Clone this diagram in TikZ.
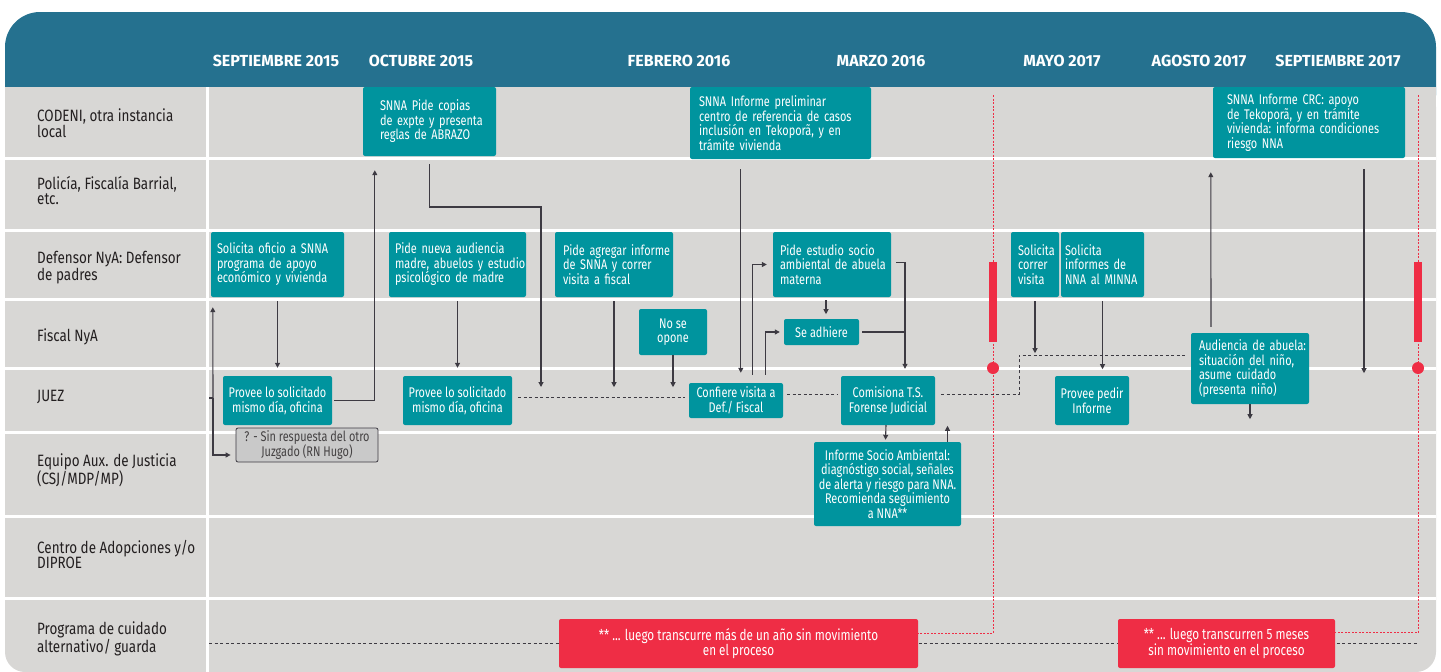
\documentclass[tikz,border=0pt]{standalone}
\usepackage{fontspec}
\setmainfont{Fira Sans}
\newfontfamily\cf[FakeStretch=0.82]{Fira Sans}
\newfontfamily\bxf[FakeStretch=0.78]{Fira Sans}
\newfontfamily\hf{Fira Sans}
\usetikzlibrary{arrows.meta,calc}
\definecolor{hdr}{HTML}{25718F}
\definecolor{bg}{HTML}{D8D7D5}
\definecolor{tl}{HTML}{00949E}
\definecolor{rd}{HTML}{EF2D45}
\definecolor{ln}{HTML}{3D3A42}
\definecolor{lbl}{HTML}{231F20}
\definecolor{gbx}{HTML}{C9C9C9}
\pgfdeclarelayer{back}
\pgfdeclarelayer{mid}
\pgfsetlayers{back,mid,main}
\hyphenpenalty=10000
\exhyphenpenalty=10000
\begin{document}
\begin{tikzpicture}[x=1pt,y=-1pt,
  tbox/.style={rectangle, rounded corners=2pt, fill=tl, text=white, font=\bxf\fontsize{14}{14.5}\selectfont, inner ysep=0pt},
  lbox/.style={tbox, align=left},
  cbox/.style={tbox, align=center, inner xsep=0pt},
  gbox/.style={rectangle, rounded corners=2pt, fill=gbx, draw=ln, line width=0.8pt, text=lbl!85, font=\bxf\fontsize{14}{14.5}\selectfont, inner sep=0pt, align=center},
  rbox/.style={rectangle, rounded corners=2pt, fill=rd, text=white, font=\bxf\fontsize{15}{14.5}\selectfont, inner sep=0pt, align=center},
  hd/.style={text=white, font=\hf\bfseries\fontsize{16}{18}\selectfont, inner sep=0pt},
  lab/.style={anchor=west, text=lbl, font=\cf\fontsize{16.4}{15}\selectfont, align=left, inner sep=0pt},
  arr/.style={draw=ln, line width=1.1pt, -{Triangle[length=5pt,width=5pt]}},
  cline/.style={draw=ln, line width=1.1pt},
  dsh/.style={draw=ln, line width=0.9pt, dash pattern=on 3pt off 2.5pt},
  rdt/.style={draw=rd, line width=1pt, dash pattern=on 2pt off 1.5pt},
  rbar/.style={rectangle, fill=rd, minimum width=8pt, minimum height=80pt, inner sep=0pt},
  rdot/.style={circle, fill=rd, minimum size=12pt, inner sep=0pt}
]
\useasboundingbox (0,0) rectangle (1441,672);
\begin{pgfonlayer}{back}
  \fill[hdr, rounded corners=35pt] (5,12) rectangle (1436,130);
  \fill[bg, rounded corners=20pt] (5,87) rectangle (1436,672);
  \fill[bg] (5,87) rectangle (1436,130);
  \foreach \yy in {158,230.5,299,368,432.5,516.5,598.5}
    \draw[white, line width=3pt] (5,\yy) -- (1436,\yy);
  \draw[white, line width=3pt] (207.5,87) -- (207.5,672);
\end{pgfonlayer}

% headers
\node[hd] (h1) at (276,61) {SEPTIEMBRE 2015};
\node[hd] (h2) at (421,61) {OCTUBRE 2015};
\node[hd] (h3) at (679,61) {FEBRERO 2016};
\node[hd] (h4) at (881,61) {MARZO 2016};
\node[hd] (h5) at (1062,61) {MAYO 2017};
\node[hd] (h6) at (1199,61) {AGOSTO 2017};
\node[hd] (h7) at (1338,61) {SEPTIEMBRE 2017};

% row labels
\node[lab] (l1) at (37,123.5) {CODENI, otra instancia\\local};
\node[lab] (l2) at (37,190.5) {Policía, Fiscalía Barrial,\\etc.};
\node[lab] (l3) at (37,267.5) {Defensor NyA: Defensor\\de padres};
\node[lab] (l4) at (37,337) {Fiscal NyA};
\node[lab] (l5) at (37,397) {JUEZ};
\node[lab] (l6) at (37,470.5) {Equipo Aux. de Justicia\\(CSJ/MDP/MP)};
\node[lab] (l7) at (37,554.5) {Centro de Adopciones y/o\\DIPROE};
\node[lab] (l8) at (37,638.5) {Programa de cuidado\\alternativo/ guarda};

% boxes (left aligned: inner xsep = left padding, text width = width - 2*padding)
\node[lbox, inner xsep=17pt, text width=99pt, minimum height=69pt] (c1) at (429.5,121.5) {SNNA~Pide~copias\\de~expte~y~presenta\\reglas~de~ABRAZO};
\node[lbox, inner xsep=9pt, text width=163pt, minimum height=72pt] (c2) at (780.5,123) {SNNA~Informe~preliminar\\centro~de~referencia~de~casos\\inclusión~en~Tekoporã,~y~en\\trámite~vivienda};
\node[lbox, inner xsep=14pt, text width=164pt, minimum height=71pt] (c3) at (1309,122.5) {SNNA~Informe~CRC:~apoyo\\de~Tekoporã,~y~en~trámite\\vivienda:~informa~condiciones\\riesgo~NNA};
\node[lbox, inner xsep=6pt, text width=121pt, minimum height=65pt] (d1) at (277.5,264.5) {Solicita~oficio~a~SNNA\\programa~de~apoyo\\económico~y~vivienda};
\node[lbox, inner xsep=6pt, text width=125pt, minimum height=65pt] (d2) at (457.5,264.5) {Pide~nueva~audiencia\\madre,~abuelos~y~estudio\\psicológico~de~madre};
\node[lbox, inner xsep=8pt, text width=102pt, minimum height=65pt] (d3) at (614,264.5) {Pide~agregar~informe\\de~SNNA~y~correr\\visita~a~fiscal};
\node[lbox, inner xsep=7pt, text width=104pt, minimum height=65pt] (d4) at (832,264.5) {Pide~estudio~socio\\ambiental~de~abuela\\materna};
\node[lbox, inner xsep=7pt, text width=34pt, minimum height=65pt] (d5) at (1035,264.5) {Solicita\\correr\\visita};
\node[lbox, inner xsep=4pt, text width=75pt, minimum height=65pt] (d6) at (1102.5,264.5) {Solicita\\informes~de\\NNA~al~MINNA};
\node[cbox, minimum width=68pt, minimum height=46pt] (f1) at (673,332) {No se\\opone};
\node[cbox, minimum width=75pt, minimum height=26pt] (f2) at (821.5,332) {Se adhiere};
\node[cbox, minimum width=109pt, minimum height=49pt] (j1) at (277.5,400.5) {Provee lo solicitado\\mismo día, oficina};
\node[cbox, minimum width=109pt, minimum height=49pt] (j2) at (457.5,400.5) {Provee lo solicitado\\mismo día, oficina};
\node[cbox, minimum width=94pt, minimum height=35pt] (j3) at (736,400.5) {Confiere visita a\\Def./ Fiscal};
\node[cbox, minimum width=94pt, minimum height=49pt] (j4) at (888,400.5) {Comisiona T.S.\\Forense Judicial};
\node[cbox, minimum width=74pt, minimum height=49pt] (j5) at (1092,400.5) {Provee pedir\\Informe};
\node[lbox, inner xsep=8pt, text width=102pt, minimum height=71pt] (j6) at (1250,368.5) {Audiencia~de~abuela:\\situación~del~niño,\\asume~cuidado\\(presenta~niño)};
\node[gbox, minimum width=142pt, minimum height=34pt] (e1) at (307,445) {? - Sin respuesta del otro\\Juzgado (RN Hugo)};
\node[cbox, minimum width=147pt, minimum height=84pt] (e2) at (887.5,484) {Informe Socio Ambiental:\\diagnóstigo social, señales\\de alerta y riesgo para NNA.\\Recomienda seguimiento\\a NNA**};
\node[rbox, minimum width=359pt, minimum height=49pt] (r1) at (738.5,643.5) {** ... luego transcurre más de un año sin movimiento\\en el proceso};
\node[rbox, minimum width=217pt, minimum height=49pt] (r2) at (1226.5,643.5) {** ... luego transcurren 5 meses\\sin movimiento en el proceso};

% markers
\coordinate (rt1) at (993,95);
\coordinate (rt2) at (1418,95);
\node[rbar] (b1) at (993,302) {};
\node[rdot] (o1) at (993,368) {};
\node[rbar] (b2) at (1418,302) {};
\node[rdot] (o2) at (1418,368) {};

\coordinate (k1) at (541,207);
\coordinate (k1e) at (541,387);
\coordinate (dk) at (1019,355);
\coordinate (pl) at (209,643);
\coordinate (pr) at (1418,643);
\coordinate (s0) at (209,398);
\coordinate (s1) at (213,398);

\begin{pgfonlayer}{mid}
  \draw[dsh] (pl) -- (pr);
  \draw[rdt] (rt1) |- ($(r1.east)+(0,-10.5)$);
  \draw[rdt] (rt2) |- ($(r2.east)+(0,-11)$);
  \draw[dsh] ($(j2.east)+(6,-3)$) -- ($(j3.west)+(-4,-3)$);
  \draw[dsh] ($(j3.east)+(4,-6)$) -- ($(j4.west)+(-4,-6)$);
  \draw[dsh] ($(j4.east)+(6,-6)$) -| (dk) -- ($(j6.west)+(-6,-13.5)$);
\end{pgfonlayer}

% connectors
\draw[arr] ($(d1.south)+(0,4)$) -- ($(j1.north)+(0,-8)$);
\draw[arr] ($(d2.south)+(0,4)$) -- ($(j2.north)+(0,-8)$);
\draw[arr] ($(j1.east)+(2,0)$) -| ($(c1.south west)+(12,14)$);
\draw[arr] ($(c1.south)+(0,8)$) |- (k1) -- (k1e);
\draw[arr] ($(d3.south)+(0,4)$) -- ($(d3.south)+(0,90)$);
\draw[arr] (f1.south) -- ($(f1.south)+(0,32)$);
\draw[arr] ($(c2.south west)+(51,10)$) -- ($(j3.north west)+(52,-10)$);
\draw[arr] ($(j3.north west)+(64,-8)$) |- ($(d4.west)+(-6,0)$);
\draw[arr] ($(j3.north west)+(77,-8)$) |- ($(f2.west)+(-4,0)$);
\draw[arr] ($(d4.south)+(-6,3)$) -- ($(d4.south)+(-6,17)$);
\draw[arr] ($(d4.east)+(5,-2)$) -| ($(j4.north)+(17,-7)$);
\draw[cline] ($(f2.east)+(3,0)$) -- ($(f2.east -| j4.north)+(17,0)$);
\draw[arr] ($(j4.south)+(-2,0)$) -- ($(e2.north)+(-2,-2)$);
\draw[arr] ($(e2.north)+(60,0)$) -- ($(e2.north)+(60,-16)$);
\draw[arr] ($(d5.south)+(0,4)$) -- ($(d5.south)+(0,56)$);
\draw[arr] ($(d6.south)+(0,4)$) -- ($(d6.south)+(0,72)$);
\draw[arr] ($(j6.north)+(-39,-6)$) -- ($(c3.south west)+(-2,14)$);
\draw[arr] ($(c3.south)+(55,11)$) -- ($(c3.south)+(55,215)$);
\draw[arr] (j6.south) -- ($(j6.south)+(0,15)$);
\draw[cline] (s0) -- (s1);
\draw[arr] (s1) -- ($(d1.south west)+(2,10)$);
\draw[arr] (s1) |- ($(e1.west)+(-5,10)$);
\end{tikzpicture}
\end{document}
